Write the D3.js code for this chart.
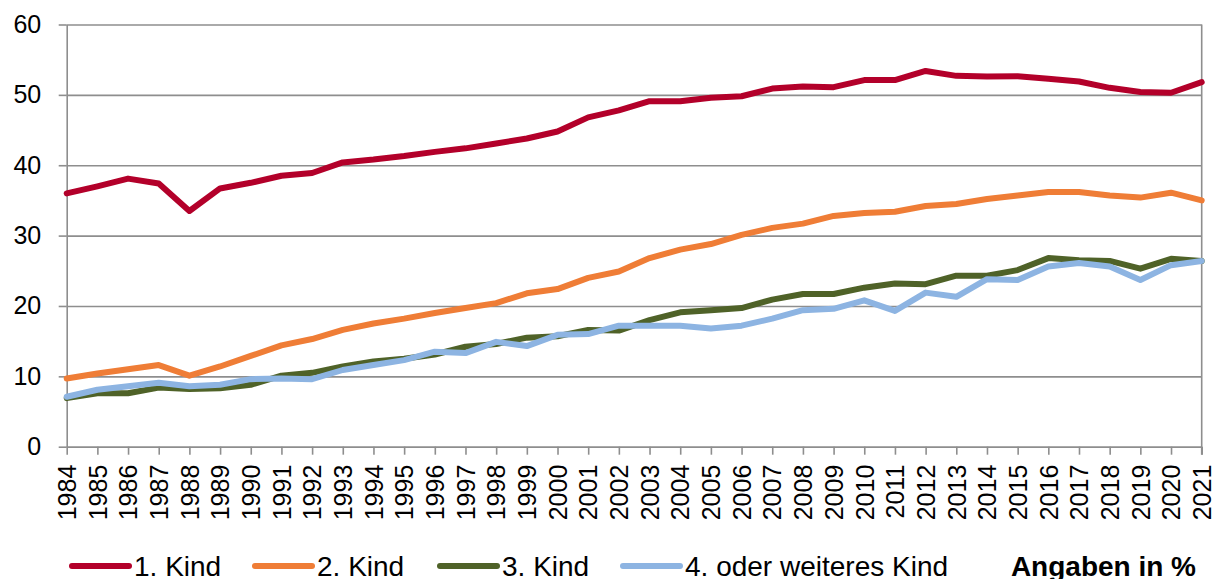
<!DOCTYPE html>
<html>
<head>
<meta charset="utf-8">
<script src="https://cdn.jsdelivr.net/npm/d3@7"></script>
<style>
  html, body { margin: 0; padding: 0; background: #fff; }
  svg { display: block; font-family: "Liberation Sans", Arial, sans-serif; }
</style>
</head>
<body>
<svg id="chart" width="1214" height="579"></svg>
<script>
const years = d3.range(1984, 2022);
const yTicks = [0, 10, 20, 30, 40, 50, 60];
const seriesNames = ["1. Kind", "2. Kind", "3. Kind", "4. oder weiteres Kind"];
const kind1 = [36.0, 37.0, 38.1, 37.4, 33.5, 36.7, 37.5, 38.5, 38.9, 40.4, 40.8, 41.3, 41.9, 42.4, 43.1, 43.8, 44.8, 46.8, 47.8, 49.1, 49.1, 49.6, 49.8, 50.9, 51.2, 51.1, 52.1, 52.1, 53.4, 52.7, 52.6, 52.65, 52.3, 51.9, 51.0, 50.4, 50.3, 51.8];
const kind2 = [9.7, 10.4, 11.0, 11.6, 10.1, 11.4, 12.9, 14.4, 15.3, 16.6, 17.5, 18.2, 19.0, 19.7, 20.4, 21.8, 22.4, 24.0, 24.9, 26.8, 28.0, 28.8, 30.1, 31.1, 31.7, 32.8, 33.2, 33.4, 34.2, 34.5, 35.2, 35.7, 36.2, 36.2, 35.7, 35.4, 36.1, 35.0];
const kind3 = [6.9, 7.6, 7.6, 8.4, 8.2, 8.3, 8.8, 10.1, 10.5, 11.4, 12.1, 12.5, 13.1, 14.2, 14.6, 15.5, 15.7, 16.6, 16.5, 18.0, 19.1, 19.4, 19.7, 20.9, 21.7, 21.7, 22.6, 23.2, 23.1, 24.3, 24.3, 25.1, 26.8, 26.5, 26.4, 25.3, 26.7, 26.4];
const kind4 = [7.1, 8.1, 8.6, 9.1, 8.6, 8.8, 9.6, 9.7, 9.6, 10.9, 11.6, 12.3, 13.5, 13.3, 14.9, 14.3, 15.9, 16.0, 17.2, 17.2, 17.2, 16.8, 17.2, 18.2, 19.4, 19.6, 20.8, 19.3, 21.9, 21.3, 23.8, 23.7, 25.6, 26.1, 25.6, 23.7, 25.8, 26.4];
const colors = ["#B3002A", "#EF7D36", "#4F6228", "#8DB4E2"];
const unitLabel = "Angaben in %";

const series = [kind1, kind2, kind3, kind4];
const svg = d3.select("#chart");
const L = 66.7, R = 1201.7, T = 24.5, B = 446.7;
const x = d3.scalePoint().domain(years).range([L, R]);
const y = d3.scaleLinear().domain([0, 60]).range([B, T]);
const gridColor = "#8e8e8e";

// gridlines
svg.append("g")
  .attr("transform", `translate(${L},0)`)
  .call(d3.axisLeft(y).tickValues(yTicks).tickSize(-(R - L)).tickFormat(""))
  .call(g => g.select(".domain").remove())
  .call(g => g.selectAll("line").attr("stroke", gridColor).attr("stroke-width", 1.6));

// right border
svg.append("line").attr("x1", R).attr("x2", R).attr("y1", T).attr("y2", B + 8)
  .attr("stroke", gridColor).attr("stroke-width", 1.6);

// y axis
svg.append("g")
  .attr("transform", `translate(${L},0)`)
  .call(d3.axisLeft(y).tickValues(yTicks).tickSize(8).tickPadding(17.5).tickSizeOuter(0))
  .call(g => g.select(".domain").attr("stroke", gridColor).attr("stroke-width", 1.6))
  .call(g => g.selectAll("line").attr("stroke", gridColor).attr("stroke-width", 1.6))
  .call(g => g.selectAll("text").attr("font-size", 25).attr("fill", "#000")
    .attr("font-family", "Liberation Sans, Arial, sans-serif"));

// x axis
svg.append("g")
  .attr("transform", `translate(0,${B})`)
  .call(d3.axisBottom(x).tickSize(8).tickSizeOuter(0))
  .call(g => g.select(".domain").attr("stroke", gridColor).attr("stroke-width", 1.6))
  .call(g => g.selectAll("line").attr("stroke", gridColor).attr("stroke-width", 1.6))
  .call(g => g.selectAll("text")
    .attr("font-size", 25).attr("fill", "#000")
    .attr("font-family", "Liberation Sans, Arial, sans-serif")
    .attr("transform", "rotate(-90)")
    .attr("text-anchor", "end")
    .attr("x", -18).attr("y", 0).attr("dy", "0.35em"));

// lines
const line = d3.line().x((d, i) => x(years[i])).y(d => y(d));
series.forEach((s, i) => {
  svg.append("path").datum(s)
    .attr("d", line)
    .attr("fill", "none")
    .attr("stroke", colors[i])
    .attr("stroke-width", 6)
    .attr("stroke-linejoin", "round")
    .attr("stroke-linecap", "round");
});

// legend
const legX = [72, 255, 440, 623];
const legY = 566;
const lg = svg.append("g");
seriesNames.forEach((name, i) => {
  lg.append("line")
    .attr("x1", legX[i]).attr("x2", legX[i] + 57)
    .attr("y1", legY).attr("y2", legY)
    .attr("stroke", colors[i]).attr("stroke-width", 6).attr("stroke-linecap", "round");
  lg.append("text")
    .attr("x", legX[i] + 62).attr("y", legY + 10)
    .attr("font-size", 28).attr("fill", "#000")
    .text(name);
});
lg.append("text")
  .attr("x", 1196).attr("y", legY + 10)
  .attr("text-anchor", "end")
  .attr("font-size", 28).attr("font-weight", "bold").attr("fill", "#000")
  .text(unitLabel);
</script>
</body>
</html>
